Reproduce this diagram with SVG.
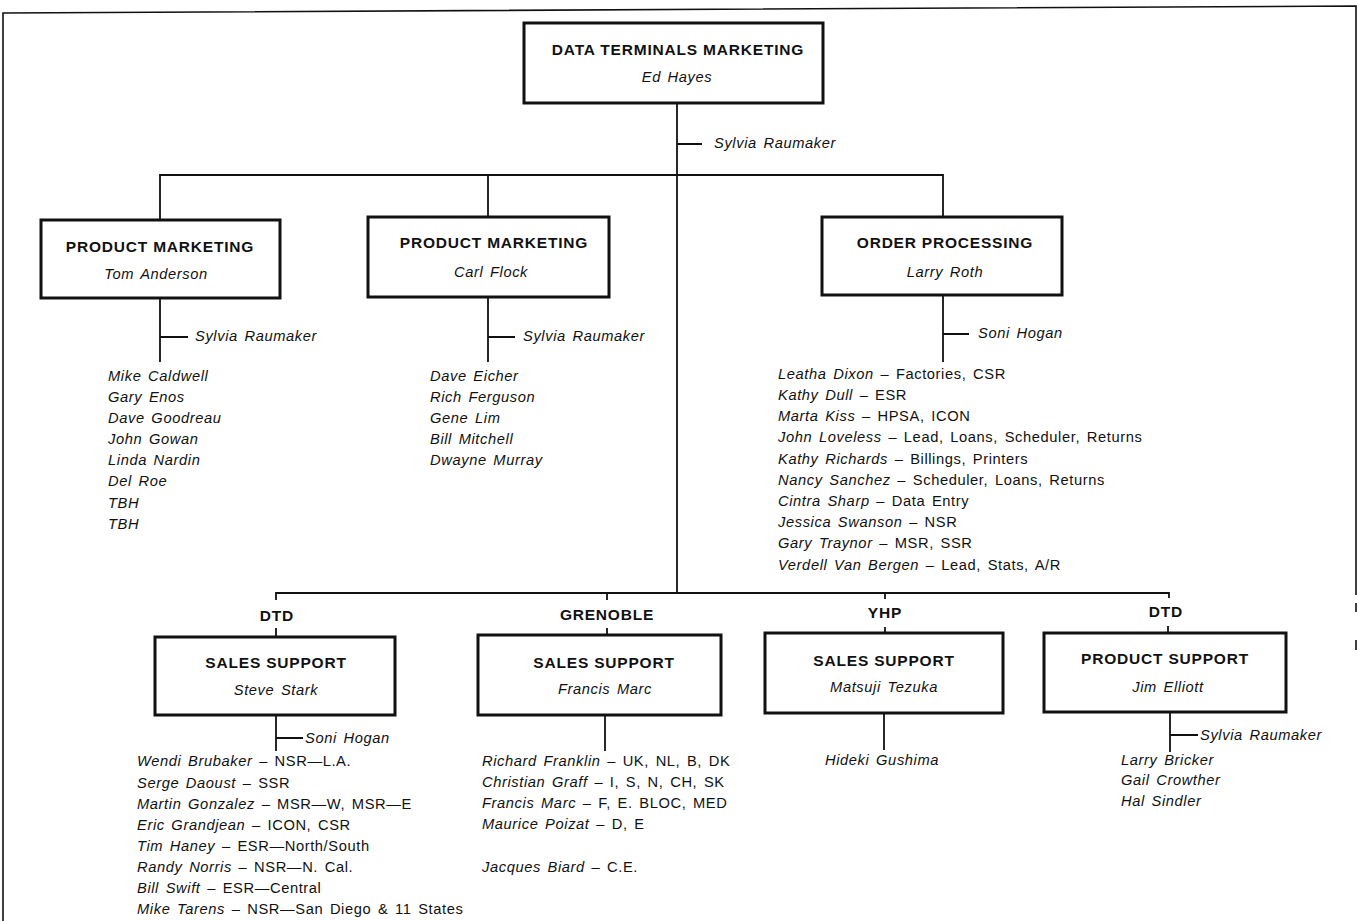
<svg xmlns="http://www.w3.org/2000/svg" width="1358" height="921" viewBox="0 0 1358 921">
<style>
.bg{fill:#fff}
.frame{fill:none;stroke:#111;stroke-width:1.6}
.box{fill:#fff;stroke:#111;stroke-width:3}
.ln{fill:none;stroke:#111;stroke-width:1.8}
.t{font-family:"Liberation Sans",Arial,sans-serif;font-weight:bold;font-size:15.5px;letter-spacing:0.8px;fill:#111;text-anchor:middle}
.n{font-family:"Liberation Sans",Arial,sans-serif;font-style:italic;font-size:14.7px;letter-spacing:0.6px;word-spacing:2px;fill:#111}
.c{text-anchor:middle}
.u{font-style:normal}
</style>
<rect class="bg" x="0" y="0" width="1358" height="921"/>
<path class="frame" d="M3,921 L3,13 L1356,6 L1356,595 M1356,603 L1356,612 M1356,640 L1356,650"/>
<g id="connectors">
<path class="ln" d="M677,103 L677,593 M677,144 L702,144"/>
<path class="ln" d="M160,220 L160,175 L943,175 L943,217 M488,175 L488,217"/>
<path class="ln" d="M160,298 L160,362 M160,337 L188,337"/>
<path class="ln" d="M488,297 L488,362 M488,337 L515,337"/>
<path class="ln" d="M943,295 L943,362 M943,334 L969,334"/>
<path class="ln" d="M276,600 L276,593 L1169,593 L1169,598 M607,593 L607,600 M885,593 L885,599"/>
<path class="ln" d="M276,628 L276,637 M607,628 L607,635 M885,627 L885,633 M1168,626 L1168,633"/>
<path class="ln" d="M276,715 L276,751 M276,738 L303,738"/>
<path class="ln" d="M605,715 L605,751"/>
<path class="ln" d="M884,713 L884,750"/>
<path class="ln" d="M1170,712 L1170,752 M1170,735 L1198,735"/>
</g>
<g id="data-terminals-marketing">
<rect class="box" x="524" y="23" width="299" height="80"/>
<text class="t" x="678" y="55">DATA TERMINALS MARKETING</text>
<text class="n c" x="677" y="82">Ed Hayes</text>
</g>
<text class="n" x="714" y="148">Sylvia Raumaker</text>
<g id="product-marketing-anderson">
<rect class="box" x="41" y="220" width="239" height="78"/>
<text class="t" x="160" y="252">PRODUCT MARKETING</text>
<text class="n c" x="156" y="279">Tom Anderson</text>
<text class="n" x="195" y="341">Sylvia Raumaker</text>
<text class="n" x="108" y="381">Mike Caldwell</text>
<text class="n" x="108" y="402">Gary Enos</text>
<text class="n" x="108" y="423">Dave Goodreau</text>
<text class="n" x="108" y="444">John Gowan</text>
<text class="n" x="108" y="465">Linda Nardin</text>
<text class="n" x="108" y="486">Del Roe</text>
<text class="n" x="108" y="508">TBH</text>
<text class="n" x="108" y="529">TBH</text>
</g>
<g id="product-marketing-flock">
<rect class="box" x="368" y="217" width="241" height="80"/>
<text class="t" x="494" y="248">PRODUCT MARKETING</text>
<text class="n c" x="491" y="277">Carl Flock</text>
<text class="n" x="523" y="341">Sylvia Raumaker</text>
<text class="n" x="430" y="381">Dave Eicher</text>
<text class="n" x="430" y="402">Rich Ferguson</text>
<text class="n" x="430" y="423">Gene Lim</text>
<text class="n" x="430" y="444">Bill Mitchell</text>
<text class="n" x="430" y="465">Dwayne Murray</text>
</g>
<g id="order-processing">
<rect class="box" x="822" y="217" width="240" height="78"/>
<text class="t" x="945" y="248">ORDER PROCESSING</text>
<text class="n c" x="945" y="277">Larry Roth</text>
<text class="n" x="978" y="338">Soni Hogan</text>
<text class="n" x="778" y="379">Leatha Dixon <tspan class="u">– Factories, CSR</tspan></text>
<text class="n" x="778" y="400">Kathy Dull <tspan class="u">– ESR</tspan></text>
<text class="n" x="778" y="421">Marta Kiss <tspan class="u">– HPSA, ICON</tspan></text>
<text class="n" x="778" y="442">John Loveless <tspan class="u">– Lead, Loans, Scheduler, Returns</tspan></text>
<text class="n" x="778" y="464">Kathy Richards <tspan class="u">– Billings, Printers</tspan></text>
<text class="n" x="778" y="485">Nancy Sanchez <tspan class="u">– Scheduler, Loans, Returns</tspan></text>
<text class="n" x="778" y="506">Cintra Sharp <tspan class="u">– Data Entry</tspan></text>
<text class="n" x="778" y="527">Jessica Swanson <tspan class="u">– NSR</tspan></text>
<text class="n" x="778" y="548">Gary Traynor <tspan class="u">– MSR, SSR</tspan></text>
<text class="n" x="778" y="570">Verdell Van Bergen <tspan class="u">– Lead, Stats, A/R</tspan></text>
</g>
<g id="sales-support-dtd">
<text class="t" x="277" y="621">DTD</text>
<rect class="box" x="155" y="637" width="240" height="78"/>
<text class="t" x="276" y="668">SALES SUPPORT</text>
<text class="n c" x="276" y="695">Steve Stark</text>
<text class="n" x="305" y="743">Soni Hogan</text>
<text class="n" x="137" y="766">Wendi Brubaker <tspan class="u">– NSR—L.A.</tspan></text>
<text class="n" x="137" y="788">Serge Daoust <tspan class="u">– SSR</tspan></text>
<text class="n" x="137" y="809">Martin Gonzalez <tspan class="u">– MSR—W, MSR—E</tspan></text>
<text class="n" x="137" y="830">Eric Grandjean <tspan class="u">– ICON, CSR</tspan></text>
<text class="n" x="137" y="851">Tim Haney <tspan class="u">– ESR—North/South</tspan></text>
<text class="n" x="137" y="872">Randy Norris <tspan class="u">– NSR—N. Cal.</tspan></text>
<text class="n" x="137" y="893">Bill Swift <tspan class="u">– ESR—Central</tspan></text>
<text class="n" x="137" y="914">Mike Tarens <tspan class="u">– NSR—San Diego &amp; 11 States</tspan></text>
</g>
<g id="sales-support-grenoble">
<text class="t" x="607" y="620">GRENOBLE</text>
<rect class="box" x="478" y="635" width="243" height="80"/>
<text class="t" x="604" y="668">SALES SUPPORT</text>
<text class="n c" x="605" y="694">Francis Marc</text>
<text class="n" x="482" y="766">Richard Franklin <tspan class="u">– UK, NL, B, DK</tspan></text>
<text class="n" x="482" y="787">Christian Graff <tspan class="u">– I, S, N, CH, SK</tspan></text>
<text class="n" x="482" y="808">Francis Marc <tspan class="u">– F, E. BLOC, MED</tspan></text>
<text class="n" x="482" y="829">Maurice Poizat <tspan class="u">– D, E</tspan></text>
<text class="n" x="482" y="872">Jacques Biard <tspan class="u">– C.E.</tspan></text>
</g>
<g id="sales-support-yhp">
<text class="t" x="885" y="618">YHP</text>
<rect class="box" x="765" y="633" width="238" height="80"/>
<text class="t" x="884" y="666">SALES SUPPORT</text>
<text class="n c" x="884" y="692">Matsuji Tezuka</text>
<text class="n" x="825" y="765">Hideki Gushima</text>
</g>
<g id="product-support-dtd">
<text class="t" x="1166" y="617">DTD</text>
<rect class="box" x="1044" y="633" width="242" height="79"/>
<text class="t" x="1165" y="664">PRODUCT SUPPORT</text>
<text class="n c" x="1168" y="692">Jim Elliott</text>
<text class="n" x="1200" y="740">Sylvia Raumaker</text>
<text class="n" x="1121" y="765">Larry Bricker</text>
<text class="n" x="1121" y="785">Gail Crowther</text>
<text class="n" x="1121" y="806">Hal Sindler</text>
</g>
</svg>
